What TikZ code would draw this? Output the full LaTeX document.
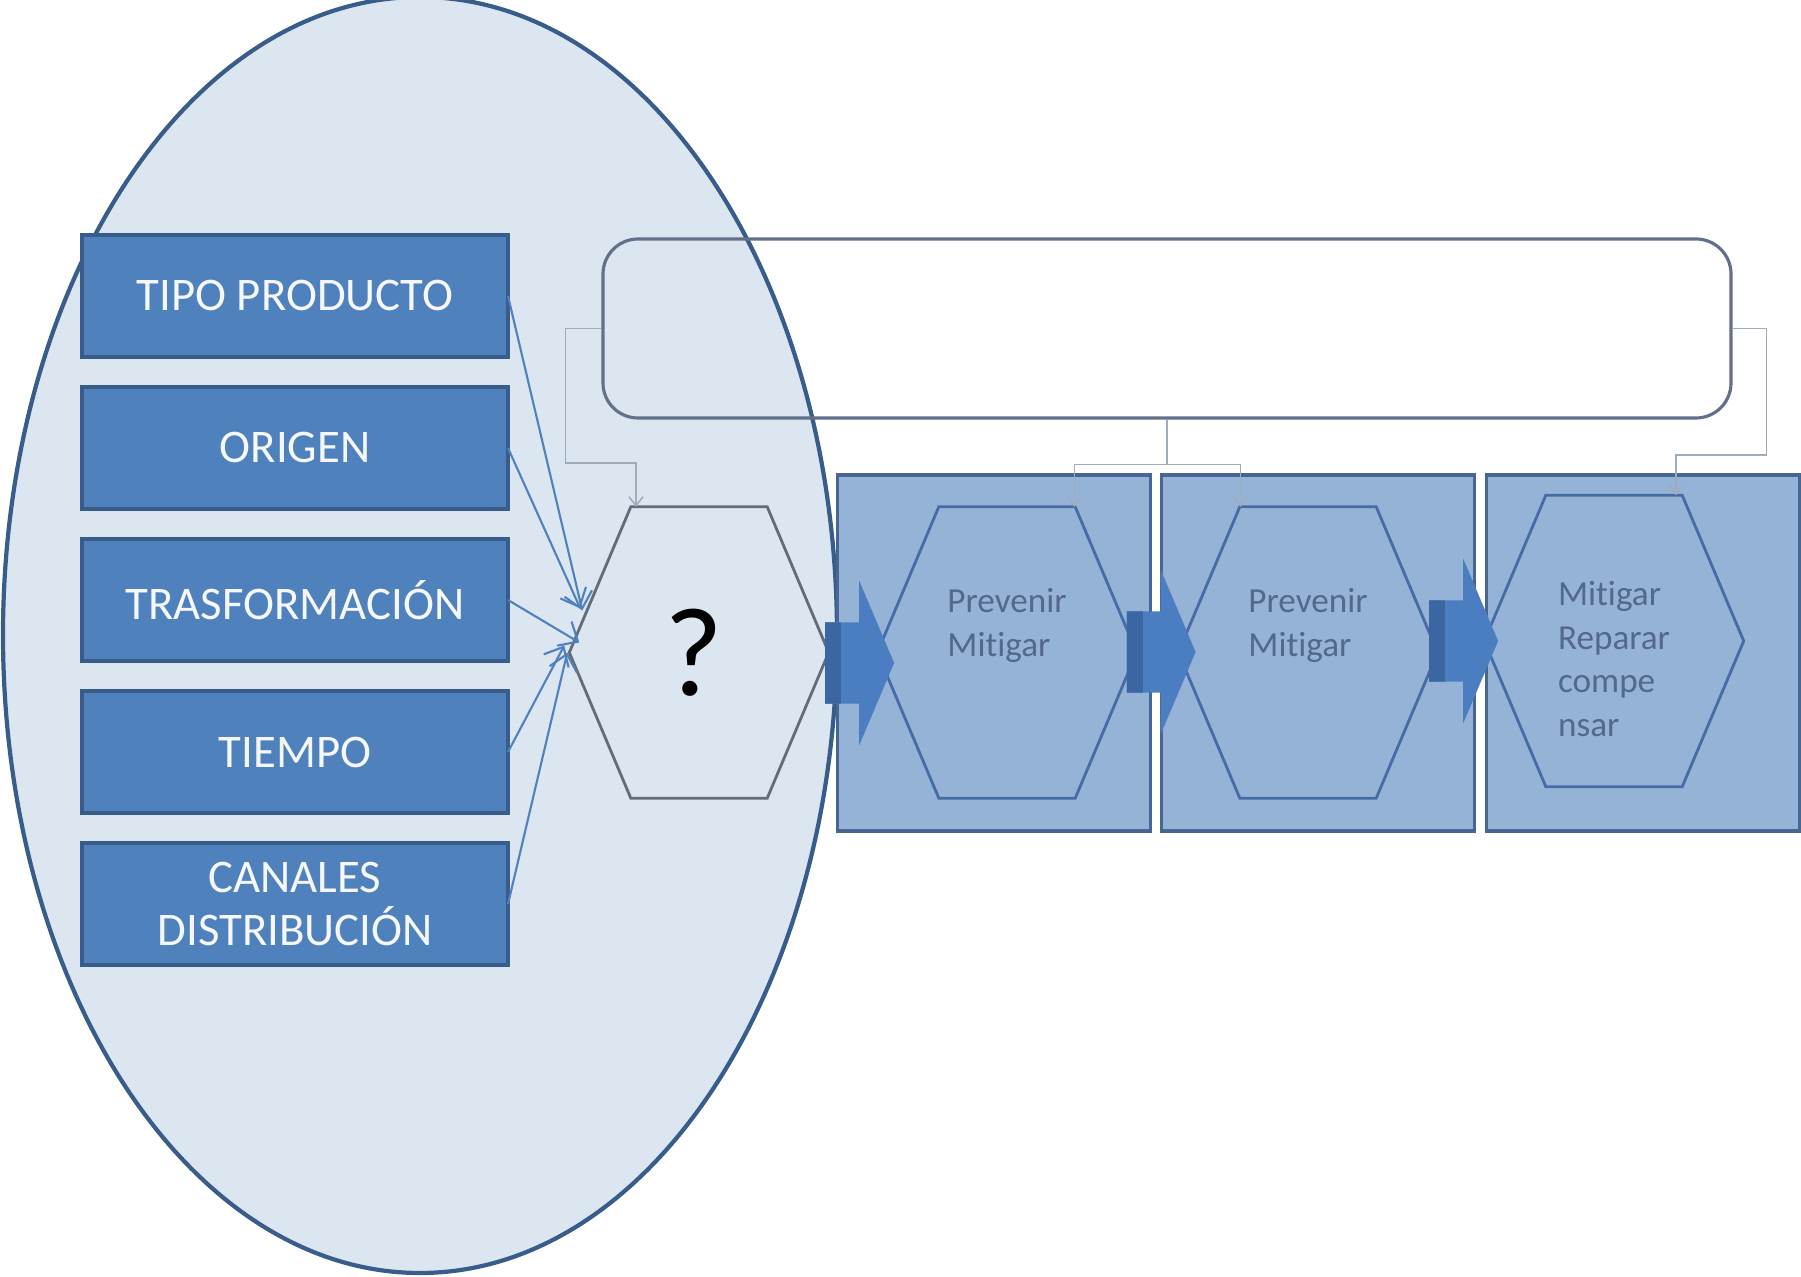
\documentclass[tikz,border=0pt]{standalone}
\usepackage{fontspec}
\setmainfont{Carlito}[Ligatures=NoCommon]
\usepackage{tikz}
\usetikzlibrary{
  shapes.geometric,
  shapes.arrows,
  arrows.meta,
  positioning,
  calc
}
\definecolor{ovalfill}{RGB}{220,230,241}
\definecolor{ovaldraw}{RGB}{56,93,138}
\definecolor{factblue}{RGB}{79,129,189}
\definecolor{stagefill}{RGB}{149,179,215}
\definecolor{stagedraw}{RGB}{72,102,148}
\definecolor{hexdraw}{RGB}{70,108,165}
\definecolor{hexgray}{RGB}{100,108,118}
\definecolor{framedraw}{RGB}{98,112,138}
\definecolor{linkgray}{RGB}{160,172,190}
\definecolor{labelslate}{RGB}{82,104,140}
\definecolor{bigarrow}{RGB}{74,126,192}
\definecolor{bigarrowdk}{RGB}{60,102,162}

\begin{document}
\begin{tikzpicture}[
  oval/.style={ellipse, draw=ovaldraw, fill=ovalfill, line width=1.2pt,
               minimum width=8.34cm, minimum height=12.76cm, inner sep=0pt},
  fact/.style={draw=ovaldraw, fill=factblue, line width=1.1pt,
               minimum width=4.26cm, minimum height=1.22cm, inner sep=0pt, outer sep=0pt,
               font=\fontsize{13.3}{15}\selectfont, text=white!94!factblue, align=center},
  stage/.style={draw=stagedraw, fill=stagefill, line width=0.9pt,
                minimum width=3.13cm, minimum height=3.56cm, inner sep=0pt, outer sep=0pt},
  hexa/.style={rectangle, inner sep=0pt, minimum width=2.58cm, minimum height=2.9cm},
  hexline/.style={hexdraw, line width=0.8pt, line join=miter},
  hexlbl/.style={font=\fontsize{10}{12.4}\selectfont, text=labelslate, align=left},
  frame/.style={draw=framedraw, line width=0.9pt, rounded corners=0.35cm,
                minimum width=11.28cm, minimum height=1.79cm},
  block/.style={single arrow, fill=bigarrow, inner xsep=0.1cm, inner ysep=0.40cm,
                single arrow tip angle=134, single arrow head extend=0.42cm,
                minimum width=1.65cm, minimum height=0.69cm,
                path picture={\fill[bigarrowdk] (path picture bounding box.south west)
                  rectangle ([xshift=0.16cm]path picture bounding box.north west);}},
  feed/.style={-{Straight Barb[length=4.5pt,width=8pt]}, factblue, line width=0.6pt},
  link/.style={-{Straight Barb[length=2.5pt,width=4pt]}, linkgray, line width=0.45pt}
]
\useasboundingbox (0,0) rectangle (18.01,-12.77);

%% ---------- OVAL OF FACTORS ----------
\node[oval] (zone) at (4.20,-6.35) {};

%% ---------- TOP FRAME ----------
\node[frame] (goal) at (11.67,-3.285) {};

%% ---------- STAGES ----------
\node[stage]                      (st1) at (9.94,-6.53) {};
\node[stage, right=0.11cm of st1] (st2) {};
\node[stage, right=0.12cm of st2] (st3) {};

\node[hexa] (hexq) at (6.99,-6.525) {\fontsize{36}{36}\selectfont ?\kern0.1cm};
\node[hexa, label={[hexlbl, yshift=0.27cm]center:Prevenir\\Mitigar}] (hex2) at (10.07,-6.525) {};
\node[hexa, label={[hexlbl, yshift=0.27cm]center:Prevenir\\Mitigar}] (hex3) at (13.08,-6.525) {};
\node[hexa, label={[hexlbl, yshift=-0.18cm]center:Mitigar\\Reparar\\compe\\nsar}] (hex4) at (16.14,-6.41) {};

% hexagon outlines on the invisible boxes
\foreach \h/\c in {hexq/hexgray, hex2/hexdraw, hex3/hexdraw, hex4/hexdraw}
  \draw[hexline, draw=\c] (\h.west) -- ([xshift=0.615cm]\h.north west)
    -- ([xshift=-0.615cm]\h.north east) -- (\h.east)
    -- ([xshift=-0.615cm]\h.south east) -- ([xshift=0.615cm]\h.south west) -- cycle;

\node[block] (go1) at (8.51,-6.63) {};
\node[block] (go2) at (11.525,-6.52) {};
\node[block] (go3) at (14.55,-6.41) {};

%% ---------- FACTOR BOXES ----------
\node[fact]                       (tipo)    at (2.95,-2.96) {TIPO PRODUCTO};
\node[fact, below=0.30cm of tipo]   (origen)  {ORIGEN};
\node[fact, below=0.30cm of origen] (trans)   {TRASFORMACIÓN};
\node[fact, below=0.30cm of trans]  (tiempo)  {TIEMPO};
\node[fact, below=0.30cm of tiempo] (canales) {CANALES\\DISTRIBUCIÓN};

%% ---------- FACTORS -> ? ----------
\draw[feed] (tipo.east)    -- ($(hexq.west)+(0.13,0.42)$);
\draw[feed] (origen.east)  -- ($(hexq.west)+(0.11,0.44)$);
\draw[feed] (trans.east)   -- ($(hexq.west)+(0.10,0.10)$);
\draw[feed] (tiempo.east)  -- ($(hexq.west)+(-0.05,0.07)$);
\draw[feed] (canales.east) -- ($(hexq.west)+(-0.02,0.00)$);

%% ---------- FRAME -> STAGES ----------
\draw[link] (goal.west) -- ++(-0.36,0) |- ($(hexq.north)+(-0.63,0.44)$) -- ($(hexq.north)+(-0.63,0)$);
\draw[link] (goal.south) -- ++(0,-0.45) -| ($(hex2.north)+(0.675,0)$);
\draw[link] (goal.south) -- ++(0,-0.45) -| ($(hex3.north)+(-0.675,0)$);
\draw[link] (goal.east) -- ++(0.34,0) |- ($(hex4.north)+(0.62,0.40)$) -- ($(hex4.north)+(0.62,0)$);

\end{tikzpicture}
\end{document}
